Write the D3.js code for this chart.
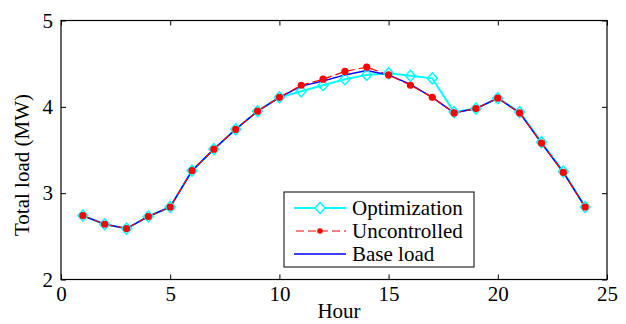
<!DOCTYPE html>
<html><head><meta charset="utf-8">
<script src="https://cdn.jsdelivr.net/npm/d3@7"></script>
<style>body{margin:0;background:#fff}svg{display:block}text{font-family:"Liberation Serif","Times New Roman",serif}</style>
</head><body>
<svg id="c" width="626" height="324"></svg>
<script>
const hours = [1,2,3,4,5,6,7,8,9,10,11,12,13,14,15,16,17,18,19,20,21,22,23,24];
const optimization = [2.74,2.64,2.59,2.73,2.84,3.26,3.51,3.74,3.95,4.11,4.18,4.25,4.32,4.37,4.39,4.36,4.33,3.94,3.98,4.10,3.94,3.59,3.25,2.84];
const uncontrolled = [2.74,2.64,2.59,2.73,2.84,3.26,3.51,3.74,3.95,4.11,4.25,4.32,4.41,4.46,4.37,4.25,4.11,3.93,3.98,4.10,3.93,3.58,3.24,2.84];
const baseLoad = [2.74,2.64,2.59,2.73,2.84,3.26,3.51,3.74,3.95,4.11,4.24,4.30,4.37,4.42,4.37,4.26,4.11,3.93,3.98,4.10,3.93,3.58,3.24,2.84];
const xTicks = [0,5,10,15,20,25];
const yTicks = [2,3,4,5];
const legendLabels = ["Optimization","Uncontrolled","Base load"];

(function(){
const svg = d3.select("#c");
const L=61, R=607, T=20.5, B=279.5;
const FS = 21;
const x = d3.scaleLinear().domain([0,25]).range([L,R]);
const y = d3.scaleLinear().domain([2,5]).range([B,T]);

const line = d3.line().x((d,i)=>x(hours[i])).y(d=>y(d));

svg.append("path").datum(optimization).attr("d",line).attr("fill","none").attr("stroke","#00ffff").attr("stroke-width",2);
svg.append("path").datum(baseLoad).attr("d",line).attr("fill","none").attr("stroke","#0000ff").attr("stroke-width",1.5);
svg.append("path").datum(uncontrolled).attr("d",line).attr("fill","none").attr("stroke","#ff0000").attr("stroke-width",1.2).attr("stroke-dasharray","8,4");

const dia = "M0,-5.5L5,0L0,5.5L-5,0Z";
svg.append("g").selectAll("path").data(optimization).join("path")
  .attr("d",dia).attr("transform",(d,i)=>`translate(${x(hours[i])},${y(d)})`)
  .attr("fill","none").attr("stroke","#00ffff").attr("stroke-width",1.5);
svg.append("g").selectAll("circle").data(uncontrolled).join("circle")
  .attr("cx",(d,i)=>x(hours[i])).attr("cy",d=>y(d)).attr("r",3.6).attr("fill","#ff0000");

svg.append("rect").attr("x",L).attr("y",T).attr("width",R-L).attr("height",B-T).attr("fill","none").attr("stroke","#000").attr("stroke-width",1.2);
const axB = d3.axisBottom(x).tickValues(xTicks).tickSize(-5).tickPadding(7).tickFormat(d3.format("d"));
const axL = d3.axisLeft(y).tickValues(yTicks).tickSize(-5).tickPadding(8).tickFormat(d3.format("d"));
const axT = d3.axisTop(x).tickValues(xTicks).tickSize(-5).tickFormat("");
const axR = d3.axisRight(y).tickValues(yTicks).tickSize(-5).tickFormat("");
function style(g){g.select(".domain").remove();g.selectAll("line").attr("stroke","#000");g.selectAll("text").attr("font-size",FS).attr("fill","#000").style("font-family",'"Liberation Serif",serif');}
svg.append("g").attr("transform",`translate(0,${B})`).call(axB).call(style);
svg.append("g").attr("transform",`translate(${L},0)`).call(axL).call(style);
svg.append("g").attr("transform",`translate(0,${T})`).call(axT).call(style);
svg.append("g").attr("transform",`translate(${R},0)`).call(axR).call(style);

svg.append("text").attr("x",(L+R)/2+5).attr("y",318).attr("text-anchor","middle").attr("font-size",FS).text("Hour");
svg.append("text").attr("transform",`translate(29,${(T+B)/2+15}) rotate(-90)`).attr("text-anchor","middle").attr("font-size",FS).text("Total load (MW)");

const lg = svg.append("g");
lg.append("rect").attr("x",284).attr("y",192).attr("width",190).attr("height",75).attr("fill","#fff").attr("stroke","#000").attr("stroke-width",1);
const ly = [208,231,254];
const lx1=294, lx2=346;
lg.append("line").attr("x1",lx1).attr("x2",lx2).attr("y1",ly[0]).attr("y2",ly[0]).attr("stroke","#00ffff").attr("stroke-width",2);
lg.append("path").attr("d",dia).attr("transform",`translate(${(lx1+lx2)/2},${ly[0]})`).attr("fill","#fff").attr("stroke","#00ffff").attr("stroke-width",1.5);
lg.append("line").attr("x1",lx1).attr("x2",lx2).attr("y1",ly[1]).attr("y2",ly[1]).attr("stroke","#ff0000").attr("stroke-width",1.2).attr("stroke-dasharray","8,4").attr("stroke-dashoffset",-2);
lg.append("circle").attr("cx",(lx1+lx2)/2).attr("cy",ly[1]).attr("r",2.8).attr("fill","#ff0000");
lg.append("line").attr("x1",lx1).attr("x2",lx2).attr("y1",ly[2]).attr("y2",ly[2]).attr("stroke","#0000ff").attr("stroke-width",1.5);
lg.selectAll("text.l").data(legendLabels).join("text").attr("class","l")
  .attr("x",352).attr("y",(d,i)=>ly[i]+7).attr("font-size",FS).text(d=>d);
})();
</script>
</body></html>
